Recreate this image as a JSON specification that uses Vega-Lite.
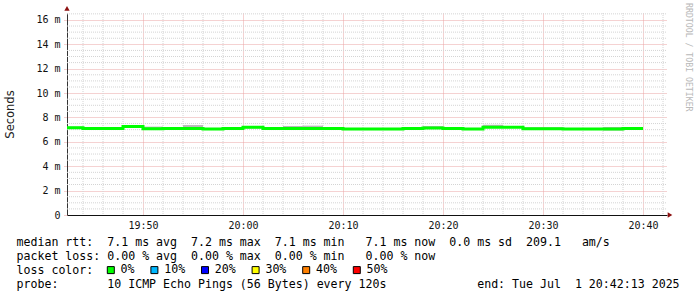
{
  "$schema": "https://vega.github.io/schema/vega-lite/v6.json",
  "autosize": "none",
  "width": 600,
  "height": 202,
  "padding": {"left": 67, "top": 13, "right": 30, "bottom": 82},
  "background": "white",
  "title": {"text": "RRDTOOL / TOBI OETIKER", "orient": "right", "anchor": "start", "font": "DejaVu Sans Mono", "fontSize": 8.2, "fontWeight": "normal", "color": "#b8b8b8", "offset": 5, "dx": -3},
  "datasets": {
    "hgrid": [{"v": 0.5}, {"v": 1}, {"v": 1.5}, {"v": 2.5}, {"v": 3}, {"v": 3.5}, {"v": 4.5}, {"v": 5}, {"v": 5.5}, {"v": 6.5}, {"v": 7}, {"v": 7.5}, {"v": 8.5}, {"v": 9}, {"v": 9.5}, {"v": 10.5}, {"v": 11}, {"v": 11.5}, {"v": 12.5}, {"v": 13}, {"v": 13.5}, {"v": 14.5}, {"v": 15}, {"v": 15.5}, {"v": 16.5}],
    "vgrid": [{"t": "2025-07-01T19:44:00Z"}, {"t": "2025-07-01T19:46:00Z"}, {"t": "2025-07-01T19:48:00Z"}, {"t": "2025-07-01T19:52:00Z"}, {"t": "2025-07-01T19:54:00Z"}, {"t": "2025-07-01T19:56:00Z"}, {"t": "2025-07-01T19:58:00Z"}, {"t": "2025-07-01T20:02:00Z"}, {"t": "2025-07-01T20:04:00Z"}, {"t": "2025-07-01T20:06:00Z"}, {"t": "2025-07-01T20:08:00Z"}, {"t": "2025-07-01T20:12:00Z"}, {"t": "2025-07-01T20:14:00Z"}, {"t": "2025-07-01T20:16:00Z"}, {"t": "2025-07-01T20:18:00Z"}, {"t": "2025-07-01T20:22:00Z"}, {"t": "2025-07-01T20:24:00Z"}, {"t": "2025-07-01T20:26:00Z"}, {"t": "2025-07-01T20:28:00Z"}, {"t": "2025-07-01T20:32:00Z"}, {"t": "2025-07-01T20:34:00Z"}, {"t": "2025-07-01T20:36:00Z"}, {"t": "2025-07-01T20:38:00Z"}, {"t": "2025-07-01T20:42:00Z"}],
    "smoke": [
      {"t": "2025-07-01T19:42:00Z", "t2": "2025-07-01T19:44:00Z", "lo": 7.1, "hi": 7.25},
      {"t": "2025-07-01T19:44:00Z", "t2": "2025-07-01T19:46:00Z", "lo": 7.08, "hi": 7.15},
      {"t": "2025-07-01T19:46:00Z", "t2": "2025-07-01T19:48:00Z", "lo": 7.07, "hi": 7.14},
      {"t": "2025-07-01T19:48:00Z", "t2": "2025-07-01T19:50:00Z", "lo": 7.2, "hi": 7.35},
      {"t": "2025-07-01T19:50:00Z", "t2": "2025-07-01T19:52:00Z", "lo": 7.05, "hi": 7.25},
      {"t": "2025-07-01T19:52:00Z", "t2": "2025-07-01T19:54:00Z", "lo": 7.07, "hi": 7.15},
      {"t": "2025-07-01T19:54:00Z", "t2": "2025-07-01T19:56:00Z", "lo": 7.08, "hi": 7.38},
      {"t": "2025-07-01T19:56:00Z", "t2": "2025-07-01T19:58:00Z", "lo": 7.02, "hi": 7.13},
      {"t": "2025-07-01T19:58:00Z", "t2": "2025-07-01T20:00:00Z", "lo": 7.07, "hi": 7.14},
      {"t": "2025-07-01T20:00:00Z", "t2": "2025-07-01T20:02:00Z", "lo": 7.1, "hi": 7.22},
      {"t": "2025-07-01T20:02:00Z", "t2": "2025-07-01T20:04:00Z", "lo": 7.07, "hi": 7.15},
      {"t": "2025-07-01T20:04:00Z", "t2": "2025-07-01T20:06:00Z", "lo": 7.08, "hi": 7.3},
      {"t": "2025-07-01T20:06:00Z", "t2": "2025-07-01T20:08:00Z", "lo": 7.08, "hi": 7.33},
      {"t": "2025-07-01T20:08:00Z", "t2": "2025-07-01T20:10:00Z", "lo": 7.07, "hi": 7.14},
      {"t": "2025-07-01T20:10:00Z", "t2": "2025-07-01T20:12:00Z", "lo": 7.03, "hi": 7.1},
      {"t": "2025-07-01T20:12:00Z", "t2": "2025-07-01T20:14:00Z", "lo": 7.02, "hi": 7.12},
      {"t": "2025-07-01T20:14:00Z", "t2": "2025-07-01T20:16:00Z", "lo": 7.03, "hi": 7.1},
      {"t": "2025-07-01T20:16:00Z", "t2": "2025-07-01T20:18:00Z", "lo": 7.07, "hi": 7.13},
      {"t": "2025-07-01T20:18:00Z", "t2": "2025-07-01T20:20:00Z", "lo": 7.1, "hi": 7.3},
      {"t": "2025-07-01T20:20:00Z", "t2": "2025-07-01T20:22:00Z", "lo": 7.07, "hi": 7.14},
      {"t": "2025-07-01T20:22:00Z", "t2": "2025-07-01T20:24:00Z", "lo": 7.03, "hi": 7.12},
      {"t": "2025-07-01T20:24:00Z", "t2": "2025-07-01T20:26:00Z", "lo": 7.15, "hi": 7.4},
      {"t": "2025-07-01T20:26:00Z", "t2": "2025-07-01T20:28:00Z", "lo": 7.15, "hi": 7.25},
      {"t": "2025-07-01T20:28:00Z", "t2": "2025-07-01T20:30:00Z", "lo": 7.05, "hi": 7.2},
      {"t": "2025-07-01T20:30:00Z", "t2": "2025-07-01T20:32:00Z", "lo": 7.05, "hi": 7.2},
      {"t": "2025-07-01T20:32:00Z", "t2": "2025-07-01T20:34:00Z", "lo": 7.02, "hi": 7.1},
      {"t": "2025-07-01T20:34:00Z", "t2": "2025-07-01T20:36:00Z", "lo": 7.02, "hi": 7.1},
      {"t": "2025-07-01T20:36:00Z", "t2": "2025-07-01T20:38:00Z", "lo": 6.93, "hi": 7.22},
      {"t": "2025-07-01T20:38:00Z", "t2": "2025-07-01T20:40:00Z", "lo": 7.05, "hi": 7.2}
    ],
    "median": [
      {"t": "2025-07-01T19:42:00Z", "v": 7.15, "loss": "0%"},
      {"t": "2025-07-01T19:44:00Z", "v": 7.1, "loss": "0%"},
      {"t": "2025-07-01T19:46:00Z", "v": 7.1, "loss": "0%"},
      {"t": "2025-07-01T19:48:00Z", "v": 7.25, "loss": "0%"},
      {"t": "2025-07-01T19:50:00Z", "v": 7.07, "loss": "0%"},
      {"t": "2025-07-01T19:52:00Z", "v": 7.1, "loss": "0%"},
      {"t": "2025-07-01T19:54:00Z", "v": 7.1, "loss": "0%"},
      {"t": "2025-07-01T19:56:00Z", "v": 7.05, "loss": "0%"},
      {"t": "2025-07-01T19:58:00Z", "v": 7.1, "loss": "0%"},
      {"t": "2025-07-01T20:00:00Z", "v": 7.2, "loss": "0%"},
      {"t": "2025-07-01T20:02:00Z", "v": 7.1, "loss": "0%"},
      {"t": "2025-07-01T20:04:00Z", "v": 7.1, "loss": "0%"},
      {"t": "2025-07-01T20:06:00Z", "v": 7.1, "loss": "0%"},
      {"t": "2025-07-01T20:08:00Z", "v": 7.1, "loss": "0%"},
      {"t": "2025-07-01T20:10:00Z", "v": 7.05, "loss": "0%"},
      {"t": "2025-07-01T20:12:00Z", "v": 7.05, "loss": "0%"},
      {"t": "2025-07-01T20:14:00Z", "v": 7.05, "loss": "0%"},
      {"t": "2025-07-01T20:16:00Z", "v": 7.1, "loss": "0%"},
      {"t": "2025-07-01T20:18:00Z", "v": 7.13, "loss": "0%"},
      {"t": "2025-07-01T20:20:00Z", "v": 7.1, "loss": "0%"},
      {"t": "2025-07-01T20:22:00Z", "v": 7.05, "loss": "0%"},
      {"t": "2025-07-01T20:24:00Z", "v": 7.2, "loss": "0%"},
      {"t": "2025-07-01T20:26:00Z", "v": 7.2, "loss": "0%"},
      {"t": "2025-07-01T20:28:00Z", "v": 7.08, "loss": "0%"},
      {"t": "2025-07-01T20:30:00Z", "v": 7.08, "loss": "0%"},
      {"t": "2025-07-01T20:32:00Z", "v": 7.05, "loss": "0%"},
      {"t": "2025-07-01T20:34:00Z", "v": 7.05, "loss": "0%"},
      {"t": "2025-07-01T20:36:00Z", "v": 7.05, "loss": "0%"},
      {"t": "2025-07-01T20:38:00Z", "v": 7.1, "loss": "0%"},
      {"t": "2025-07-01T20:40:00Z", "v": 7.1, "loss": "0%"}
    ],
    "arrows": [
      {"t": "2025-07-01T20:42:42Z", "v": 0, "shape": "triangle-right"},
      {"t": "2025-07-01T19:42:24Z", "v": 16.95, "shape": "triangle-up"}
    ]
  },
  "encoding": {
    "x": {"field": "t", "type": "temporal",
      "scale": {"type": "utc", "domain": [{"year": 2025, "month": 7, "date": 1, "hours": 19, "minutes": 42, "seconds": 24, "utc": true}, {"year": 2025, "month": 7, "date": 1, "hours": 20, "minutes": 42, "seconds": 24, "utc": true}]},
      "axis": {
        "values": [
          {"year": 2025, "month": 7, "date": 1, "hours": 19, "minutes": 50, "utc": true},
          {"year": 2025, "month": 7, "date": 1, "hours": 20, "minutes": 0, "utc": true},
          {"year": 2025, "month": 7, "date": 1, "hours": 20, "minutes": 10, "utc": true},
          {"year": 2025, "month": 7, "date": 1, "hours": 20, "minutes": 20, "utc": true},
          {"year": 2025, "month": 7, "date": 1, "hours": 20, "minutes": 30, "utc": true},
          {"year": 2025, "month": 7, "date": 1, "hours": 20, "minutes": 40, "utc": true}
        ],
        "format": "%H:%M",
        "labelFont": "DejaVu Sans Mono", "labelFontSize": 10, "labelColor": "#111111", "labelPadding": 5, "labelFlush": false, "labelOverlap": false,
        "ticks": false,
        "domain": true, "domainColor": "#111111", "domainWidth": 1,
        "grid": true, "gridColor": "#eaa4a4", "gridDash": [1, 1],
        "title": [
          "median\u00a0rtt:\u00a0\u00a07.1\u00a0ms\u00a0avg\u00a0\u00a07.2\u00a0ms\u00a0max\u00a0\u00a07.1\u00a0ms\u00a0min\u00a0\u00a0\u00a07.1\u00a0ms\u00a0now\u00a0\u00a00.0\u00a0ms\u00a0sd\u00a0\u00a0209.1\u00a0\u00a0\u00a0am/s",
          "packet\u00a0loss:\u00a00.00\u00a0%\u00a0avg\u00a0\u00a00.00\u00a0%\u00a0max\u00a0\u00a00.00\u00a0%\u00a0min\u00a0\u00a0\u00a00.00\u00a0%\u00a0now",
          "loss\u00a0color:",
          "probe:\u00a0\u00a0\u00a0\u00a0\u00a0\u00a0\u00a010\u00a0ICMP\u00a0Echo\u00a0Pings\u00a0(56\u00a0Bytes)\u00a0every\u00a0120s\u00a0\u00a0\u00a0\u00a0\u00a0\u00a0\u00a0\u00a0\u00a0\u00a0\u00a0\u00a0\u00a0end:\u00a0Tue\u00a0Jul\u00a0\u00a01\u00a020:42:13\u00a02025"
        ],
        "titleFont": "DejaVu Sans Mono", "titleFontSize": 11.6, "titleFontWeight": "normal", "titleColor": "#000000",
        "titleAlign": "left", "titleAnchor": "start", "titleBaseline": "alphabetic",
        "titleX": -51, "titleY": 30, "titleLineHeight": 14.3
      }
    },
    "y": {"field": "v", "type": "quantitative",
      "scale": {"domain": [0, 16.57], "nice": false, "zero": true},
      "axis": {
        "values": [0, 2, 4, 6, 8, 10, 12, 14, 16],
        "labelExpr": "datum.value == 0 ? '0' : datum.value + ' m'",
        "labelFont": "DejaVu Sans Mono", "labelFontSize": 10, "labelColor": "#111111", "labelPadding": 3,
        "ticks": true, "tickSize": 4, "tickColor": "#e8a0a0", "tickDash": [1, 1],
        "domain": true, "domainColor": "#333333",
        "grid": true, "gridColor": "#eaa4a4", "gridDash": [1, 1],
        "title": "Seconds", "titleFont": "DejaVu Sans", "titleFontSize": 11.5, "titleFontWeight": "normal", "titleColor": "#222222",
        "titleX": -57, "titleY": 101, "titleAngle": -90, "titleAlign": "center", "titleBaseline": "middle"
      }
    }
  },
  "layer": [
    {
      "data": {"name": "hgrid"},
      "mark": {"type": "rule", "color": "#d4d4d4", "strokeWidth": 1, "strokeDash": [1, 1]},
      "encoding": {"x": {"value": 0}, "x2": {"value": "width"}}
    },
    {
      "data": {"name": "vgrid"},
      "mark": {"type": "rule", "color": "#d4d4d4", "strokeWidth": 1, "strokeDash": [1, 1]},
      "encoding": {"y": {"value": 0}, "y2": {"value": "height"}}
    },
    {
      "data": {"name": "smoke"},
      "mark": {"type": "rect", "color": "#b8b8b8", "clip": true},
      "encoding": {
        "x2": {"field": "t2"},
        "y": {"field": "lo", "type": "quantitative", "scale": {"domain": [0, 16.57], "nice": false, "zero": true},
          "axis": {
            "values": [0, 2, 4, 6, 8, 10, 12, 14, 16],
            "labelExpr": "datum.value == 0 ? '0' : datum.value + ' m'",
            "labelFont": "DejaVu Sans Mono", "labelFontSize": 10, "labelColor": "#111111", "labelPadding": 3,
            "ticks": true, "tickSize": 4, "tickColor": "#e8a0a0", "tickDash": [1, 1],
            "domain": true, "domainColor": "#333333",
            "grid": true, "gridColor": "#eaa4a4", "gridDash": [1, 1],
            "title": "Seconds", "titleFont": "DejaVu Sans", "titleFontSize": 11.5, "titleFontWeight": "normal", "titleColor": "#222222",
            "titleX": -57, "titleY": 101, "titleAngle": -90, "titleAlign": "center", "titleBaseline": "middle"
          }},
        "y2": {"field": "hi"}
      }
    },
    {
      "data": {"name": "median"},
      "mark": {"type": "line", "interpolate": "step-after", "strokeWidth": 3, "clip": true, "strokeCap": "butt", "color": "#00ff00"}
    },
    {
      "data": {"name": "median"},
      "mark": {"type": "rect", "clip": true},
      "encoding": {
        "x2": {"field": "t"},
        "y2": {"field": "v"},
        "fill": {"field": "loss", "type": "nominal",
          "scale": {"domain": ["0%", "10%", "20%", "30%", "40%", "50%"], "range": ["#00ff00", "#00b8ff", "#0000ff", "#ffff00", "#ff8000", "#ff0000"]},
          "legend": {
            "orient": "none", "legendX": 38, "legendY": 251, "direction": "horizontal", "title": null, "padding": 0,
            "symbolType": "square", "symbolSize": 49, "symbolStrokeWidth": 1, "symbolStrokeColor": "#000000",
            "labelFont": "DejaVu Sans Mono", "labelFontSize": 11.6, "labelColor": "#000000", "labelOffset": 4,
            "columnPadding": 13.6, "rowPadding": 0, "gridAlign": "each",
            "encode": {"symbols": {"update": {"stroke": {"value": "#000000"}, "strokeWidth": {"value": 1}, "opacity": {"value": 1}, "fillOpacity": {"value": 1}}}}
          }
        }
      }
    },
    {
      "data": {"name": "arrows"},
      "mark": {"type": "point", "filled": true, "size": 28, "color": "#8c1010", "opacity": 1, "clip": false},
      "encoding": {
        "shape": {"field": "shape", "type": "nominal", "scale": {"domain": ["triangle-right", "triangle-up"], "range": ["triangle-right", "triangle-up"]}, "legend": null}
      }
    }
  ],
  "config": {
    "view": {"stroke": null},
    "font": "DejaVu Sans Mono"
  }
}
